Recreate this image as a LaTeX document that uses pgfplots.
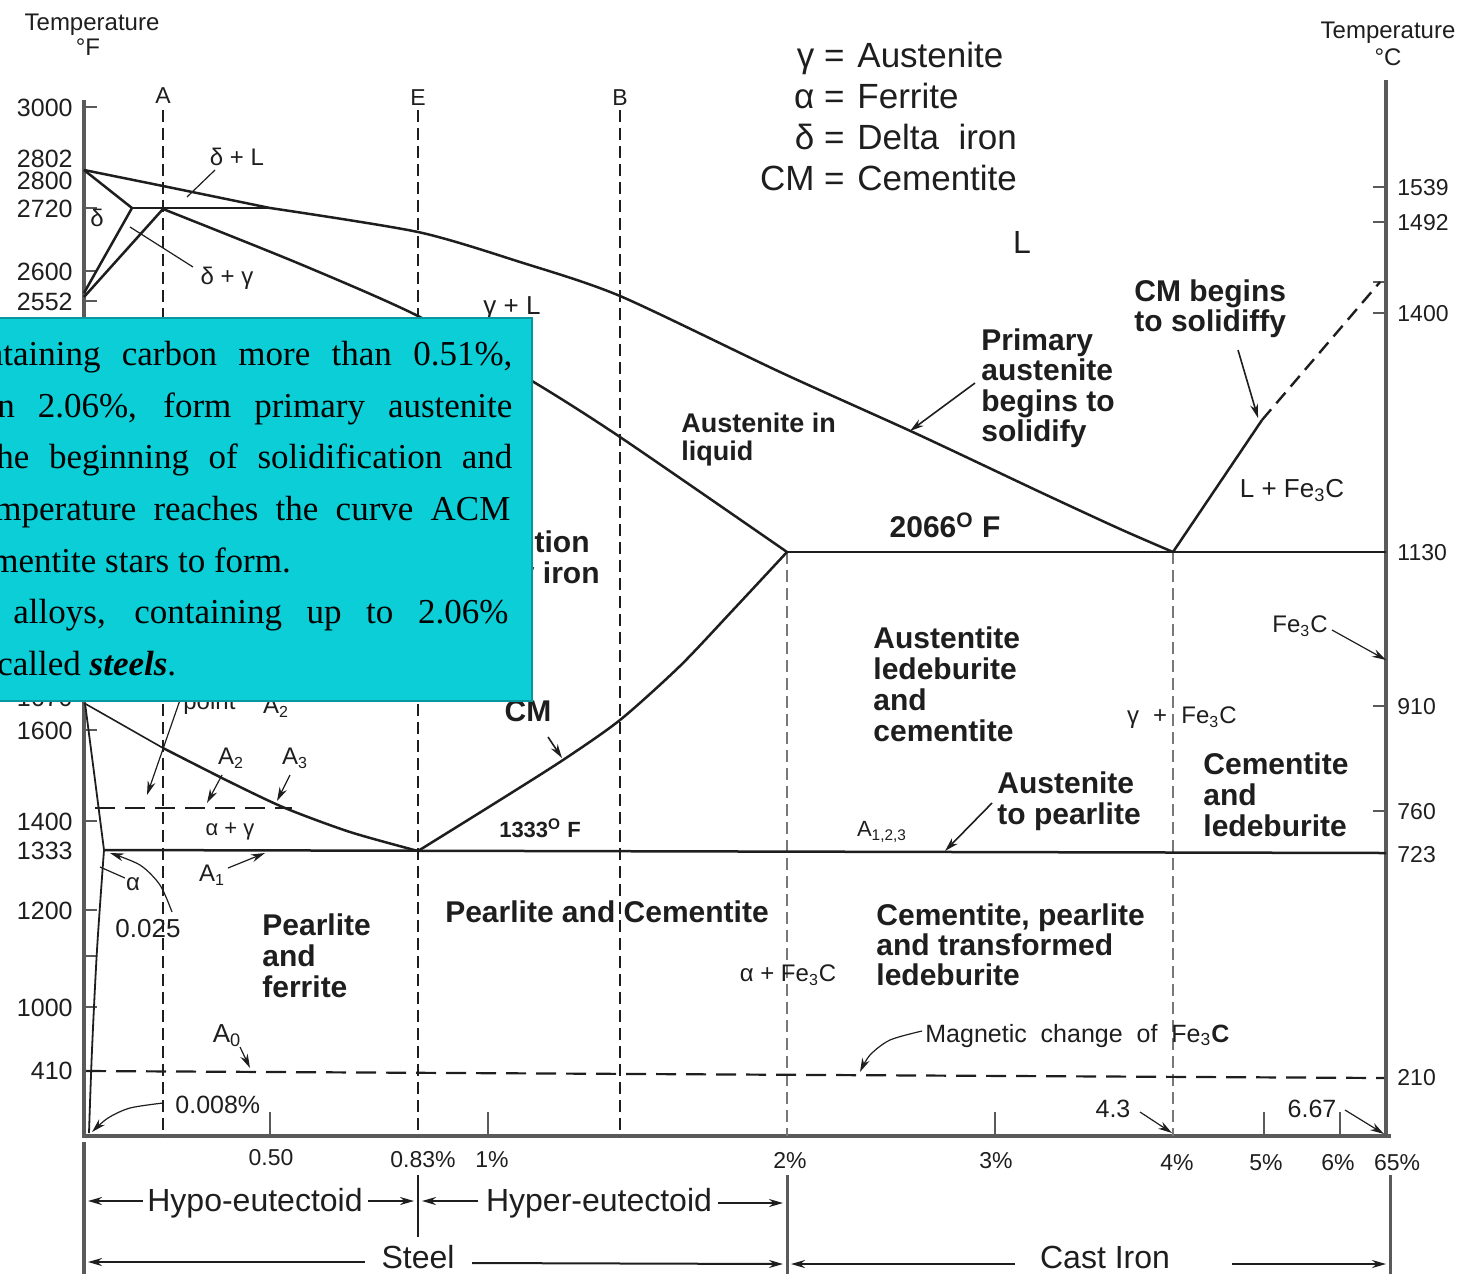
\documentclass[border=0pt]{standalone}
\usepackage{fontspec}
\setmainfont{Liberation Sans}
\newfontfamily\tnr{Liberation Serif}
\usepackage{pgfplots}
\pgfplotsset{compat=1.18}
\usetikzlibrary{arrows.meta}

\definecolor{ink}{RGB}{30,30,30}
\definecolor{axgray}{RGB}{90,90,90}
\definecolor{dgray}{RGB}{120,120,120}
\definecolor{boxfill}{RGB}{11,206,214}
\definecolor{boxedge}{RGB}{10,150,158}

% single-line label centred (vertically on the caps) at x,y
% #1 extra options, #2 x, #3 y, #4 font size (pt), #5 text
\newcommand{\lbl}[5][]{\node[inner sep=0pt,text=ink,anchor=base,
  yshift={-0.36*#4pt},font=\fontsize{#4}{#4}\selectfont,#1] at (axis cs:#2,#3) {#5};}
% multi-line label, top-left corner at x,y
\newcommand{\mlbl}[6][]{\node[inner sep=0pt,text=ink,anchor=north west,align=left,
  font=\fontsize{#4}{#5}\selectfont\bfseries,#1] at (axis cs:#2,#3) {#6};}
% one line of the serif text panel
\newcommand{\pline}[3]{\node[inner sep=0pt,anchor=base west,text=black,
  font=\tnr\fontsize{17.5}{20}\selectfont] at (axis cs:#1,#2) {#3};}

\begin{document}
\begin{tikzpicture}
\useasboundingbox (0,0) rectangle (737.5pt,637pt);
\clip (0,0) rectangle (737.5pt,637pt);
\begin{axis}[at={(0,0)},anchor=south west,scale only axis,
  width=737.5pt,height=637pt,
  xmin=0,xmax=1475,ymin=0,ymax=1274,y dir=reverse,
  hide axis,clip=false,
  cycle list={{ink,solid,line width=1.2pt,mark=none,line join=round}},
  pl/.style={ink,solid,line width=1.25pt,line join=round},
  thinl/.style={ink,line width=0.6pt},
  arr/.style={ink,line width=0.6pt,-{Stealth[length=7pt,width=4pt]}},
  dimarr/.style={ink,line width=1pt,-{Stealth[length=7pt,width=4pt]}},
  vdash/.style={ink,line width=1pt,dash pattern=on 6pt off 3pt},
  hdash/.style={ink,line width=1.1pt,dash pattern=on 10pt off 5pt},
]

% ---- axes ----
\addplot[axgray,line width=2pt] coordinates {(84,100)(84,1136)(1391,1136)};
\addplot[axgray,line width=2pt] coordinates {(1386,80)(1386,1136)};
% left ticks
\addplot[axgray,line width=1pt] coordinates {(84,107)(97,107)};
\addplot[axgray,line width=1pt] coordinates {(84,208)(97,208)};
\addplot[axgray,line width=1pt] coordinates {(84,271)(97,271)};
\addplot[axgray,line width=1pt] coordinates {(84,301)(97,301)};
\addplot[axgray,line width=1pt] coordinates {(84,730)(97,730)};
\addplot[axgray,line width=1pt] coordinates {(84,821)(97,821)};
\addplot[axgray,line width=1pt] coordinates {(84,910)(97,910)};
\addplot[axgray,line width=1pt] coordinates {(84,956)(97,956)};
\addplot[axgray,line width=1pt] coordinates {(84,1007)(97,1007)};
% right ticks
\addplot[axgray,line width=1pt] coordinates {(1373,187)(1386,187)};
\addplot[axgray,line width=1pt] coordinates {(1373,222)(1386,222)};
\addplot[axgray,line width=1pt] coordinates {(1373,282)(1386,282)};
\addplot[axgray,line width=1pt] coordinates {(1373,313)(1386,313)};
\addplot[axgray,line width=1pt] coordinates {(1373,706)(1386,706)};
\addplot[axgray,line width=1pt] coordinates {(1373,811)(1386,811)};
% bottom ticks
\addplot[axgray,line width=1pt] coordinates {(270,1112)(270,1136)};
\addplot[axgray,line width=1pt] coordinates {(488,1112)(488,1136)};
\addplot[axgray,line width=1pt] coordinates {(995,1112)(995,1136)};
\addplot[axgray,line width=1pt] coordinates {(1264,1112)(1264,1136)};
\addplot[axgray,line width=1pt] coordinates {(1340,1112)(1340,1136)};

% ---- composition guide lines ----
\addplot[vdash] coordinates {(163,110)(163,1136)};
\addplot[vdash] coordinates {(418,110)(418,1136)};
\addplot[vdash] coordinates {(620,110)(620,1136)};
\addplot[vdash,dgray,line width=1.3pt] coordinates {(787,552)(787,1136)};
\addplot[vdash,dgray,line width=1.3pt] coordinates {(1173,552)(1173,1136)};

% ---- phase boundaries ----
% liquidus
\addplot[pl] coordinates {(84,170)(163,186)(270,208)};
\addplot[pl,smooth,tension=0.45] coordinates {(270,208)(418,232)(520,262)(620,296)(780,372)(917,434)(1040,492)(1120,529)(1173,552)};
% peritectic
\addplot[pl] coordinates {(132,208)(270,208)};
% delta field
\addplot[pl] coordinates {(84,170)(132,208)(84,293)};
\addplot[pl] coordinates {(163,209)(84,297)};
% solidus
\addplot[pl,smooth,tension=0.45] coordinates {(163,209)(300,264)(418,316)(532,381)(620,437)(787,552)};
% eutectic
\addplot[pl] coordinates {(787,552)(1386,552)};
% Acm
\addplot[pl,smooth,tension=0.45] coordinates {(418,851)(500,800)(563,760)(620,720)(680,666)(733,610)(787,552)};
% A3
\addplot[pl,line width=0.8pt] coordinates {(84,703)(163,748)};
\addplot[pl,smooth,tension=0.45] coordinates {(163,748)(230,782)(285,808)(350,832)(418,851)};
% alpha field
\addplot[pl,line width=0.9pt] coordinates {(85,703)(95,780)(104,850)};
\addplot[pl,line width=0.9pt,smooth] coordinates {(104,850)(97,950)(92,1050)(89,1133)};
% eutectoid
\addplot[pl] coordinates {(104,850)(1386,853)};
% hypereutectic liquidus
\addplot[pl] coordinates {(1173,552)(1262,420)};
\addplot[hdash,line width=1.2pt,dash pattern=on 7pt off 4pt] coordinates {(1262,420)(1380,282)};
% Curie (A2) line
\addplot[hdash] coordinates {(95,808)(292,808)};
% magnetic change of Fe3C
\addplot[hdash] coordinates {(86,1071)(1384,1078)};

% ---- leaders ----
\addplot[thinl] coordinates {(215,170)(187,197)};
\addplot[thinl] coordinates {(193,267)(130,227)};
\addplot[arr] coordinates {(180,700)(147,795)};
\addplot[arr] coordinates {(222,775)(207,803)};
\addplot[arr] coordinates {(290,775)(277,801)};
\addplot[thinl] coordinates {(125,878)(100,867)};
\addplot[arr,smooth] coordinates {(172,912)(160,885)(140,865)(110,853)};
\addplot[arr] coordinates {(228,868)(265,853)};
\addplot[arr] coordinates {(240,1047)(250,1068)};
\addplot[arr,smooth] coordinates {(163,1103)(130,1108)(108,1118)(92,1132)};
\addplot[arr] coordinates {(1140,1112)(1172,1133)};
\addplot[arr] coordinates {(1345,1110)(1384,1134)};
\addplot[arr,smooth] coordinates {(922,1031)(890,1040)(870,1055)(860,1072)};
\addplot[arr,line width=0.8pt] coordinates {(975,383)(910,431)};
\addplot[arr,line width=0.8pt] coordinates {(1238,350)(1258,418)};
\addplot[arr,line width=0.8pt] coordinates {(548,737)(562,758)};
\addplot[arr,line width=0.8pt] coordinates {(992,803)(945,851)};
\addplot[arr] coordinates {(1332,630)(1386,660)};

% ---- region names below the axis ----
\addplot[axgray,line width=2pt] coordinates {(84,1142)(84,1274)};
\addplot[ink,line width=1pt] coordinates {(418,1175)(418,1237)};
\addplot[axgray,line width=1.5pt] coordinates {(787,1175)(787,1274)};
\addplot[axgray,line width=1.5pt] coordinates {(1390,1175)(1390,1274)};
\addplot[dimarr] coordinates {(143,1201)(88,1201)};
\addplot[dimarr] coordinates {(368,1201)(414,1201)};
\addplot[dimarr] coordinates {(478,1201)(422,1201)};
\addplot[dimarr] coordinates {(718,1203)(783,1203)};
\addplot[dimarr] coordinates {(365,1262)(88,1262)};
\addplot[dimarr] coordinates {(472,1263)(783,1264)};
\addplot[dimarr] coordinates {(1015,1264)(791,1264)};
\addplot[dimarr] coordinates {(1232,1264)(1386,1264)};

% ---- axis titles and tick labels ----
\lbl{92}{22}{12}{Temperature}
\lbl{88}{47}{12}{°F}
\lbl{1388}{30}{12}{Temperature}
\lbl{1388}{57}{12}{°C}
\lbl[anchor=base east]{73}{107}{12.5}{3000}
\lbl[anchor=base east]{73}{158}{12.5}{2802}
\lbl[anchor=base east]{73}{180}{12.5}{2800}
\lbl[anchor=base east]{73}{208}{12.5}{2720}
\lbl[anchor=base east]{73}{271}{12.5}{2600}
\lbl[anchor=base east]{73}{301}{12.5}{2552}
\lbl[anchor=base east]{73}{697}{12.5}{1670}
\lbl[anchor=base east]{73}{730}{12.5}{1600}
\lbl[anchor=base east]{73}{821}{12.5}{1400}
\lbl[anchor=base east]{73}{850}{12.5}{1333}
\lbl[anchor=base east]{73}{910}{12.5}{1200}
\lbl[anchor=base east]{73}{1007}{12.5}{1000}
\lbl[anchor=base east]{73}{1070}{12.5}{410}
\lbl[anchor=base west]{1397}{187}{11.5}{1539}
\lbl[anchor=base west]{1397}{222}{11.5}{1492}
\lbl[anchor=base west]{1397}{313}{11.5}{1400}
\lbl[anchor=base west]{1397}{552}{11.5}{1130}
\lbl[anchor=base west]{1397}{706}{11.5}{910}
\lbl[anchor=base west]{1397}{811}{11.5}{760}
\lbl[anchor=base west]{1397}{854}{11.5}{723}
\lbl[anchor=base west]{1397}{1077}{11.5}{210}
\lbl{271}{1157}{11.5}{0.50}
\lbl{423}{1159}{11.5}{0.83\%}
\lbl{492}{1159}{11.5}{1\%}
\lbl{790}{1160}{11.5}{2\%}
\lbl{996}{1160}{11.5}{3\%}
\lbl{1177}{1162}{11.5}{4\%}
\lbl{1266}{1162}{11.5}{5\%}
\lbl{1338}{1162}{11.5}{6\%}
\lbl{1397}{1162}{11.5}{65\%}
\lbl{163}{95}{11.5}{A}
\lbl{418}{97}{11.5}{E}
\lbl{620}{97}{11.5}{B}
\lbl{255}{1200}{16}{Hypo-eutectoid}
\lbl{599}{1200}{16}{Hyper-eutectoid}
\lbl{418}{1257}{16}{Steel}
\lbl{1105}{1257}{16}{Cast Iron}

% ---- key ----
\lbl[anchor=base east]{845}{55}{17.5}{γ =}
\lbl[anchor=base east]{845}{96}{17.5}{α =}
\lbl[anchor=base east]{845}{137}{17.5}{δ =}
\lbl[anchor=base east]{845}{178}{17.5}{CM =}
\lbl[anchor=base west]{857}{55}{17.5}{Austenite}
\lbl[anchor=base west]{857}{96}{17.5}{Ferrite}
\lbl[anchor=base west]{857}{137}{17.5}{Delta\ \ iron}
\lbl[anchor=base west]{857}{178}{17.5}{Cementite}

% ---- field labels ----
\lbl{1022}{242}{16}{L}
\lbl{512}{305}{13}{γ + L}
\lbl{237}{157}{12}{δ + L}
\lbl{97}{218}{12}{δ}
\lbl{227}{276}{12}{δ + γ}
\lbl{1292}{488}{13}{L + Fe\textsubscript{3}C}
\lbl{1300}{624}{12}{Fe\textsubscript{3}C}
\lbl{1133}{715}{12}{γ}
\lbl{1160}{715}{12}{+}
\lbl{1209}{715}{12}{Fe\textsubscript{3}C}
\lbl{882}{829}{11}{A\textsubscript{1,2,3}}
\lbl{788}{973}{12}{α + Fe\textsubscript{3}C}
\lbl[anchor=base west]{925}{1033}{12.5}{Magnetic\ \ change\ \ of\ \ Fe\textsubscript{3}\textbf{C}}
\lbl{227}{1033}{13}{A\textsubscript{0}}
\lbl[anchor=base west]{175}{1104}{12.5}{0.008\%}
\lbl{148}{928}{13}{0.025}
\lbl{133}{882}{12}{α}
\lbl{212}{873}{12}{A\textsubscript{1}}
\lbl{231}{756}{12}{A\textsubscript{2}}
\lbl{295}{756}{12}{A\textsubscript{3}}
\lbl{230}{828}{11}{α + γ}
\lbl[anchor=base west]{183}{701}{12}{point}
\lbl{276}{705}{12}{A\textsubscript{2}}
\lbl{1113}{1108}{12.5}{4.3}
\lbl{1312}{1108}{12.5}{6.67}
\lbl{945}{527}{15}{\bfseries 2066\textsuperscript{O} F}
\lbl{540}{830}{11}{\bfseries 1333\textsuperscript{O} F}
\lbl{528}{711}{15}{\bfseries CM}
\lbl[anchor=base east]{590}{542}{15}{\bfseries Solid solution}
\lbl[anchor=base east]{600}{573}{15}{\bfseries of carbon in γ iron}
\lbl{607}{912}{15}{\bfseries Pearlite and Cementite}
\mlbl{262}{913}{15}{15.5}{Pearlite\\and\\ferrite}
\mlbl{873}{626}{15}{15.5}{Austentite\\ledeburite\\and\\cementite}
\mlbl{997}{771}{15}{15.5}{Austenite\\to pearlite}
\mlbl{1203}{752}{15}{15.5}{Cementite\\and\\ledeburite}
\mlbl{876}{903}{15}{15}{Cementite, pearlite\\and transformed\\ledeburite}
\mlbl{981}{328}{15}{15.25}{Primary\\austenite\\begins to\\solidify}
\mlbl{1134}{279}{15}{15.25}{CM begins\\to solidiffy}
\mlbl{681}{413}{13.5}{14}{Austenite in\\liquid}

% ---- text panel ----
\fill[boxfill,draw=boxedge,line width=1.2pt] (axis cs:-10,318) rectangle (axis cs:532,701);
\pline{3}{365}{\makebox[254.5pt][s]{\llap{con}taining carbon more than 0.51\%,}}
\pline{-3}{417}{\makebox[257.5pt][s]{\llap{tha}n 2.06\%, form primary austenite}}
\pline{-4}{468}{\makebox[258pt][s]{\llap{t}he beginning of solidification and}}
\pline{-6}{520}{\makebox[258pt][s]{\llap{te}mperature reaches the curve ACM}}
\pline{-9}{572}{\llap{ce}mentite stars to form.}
\pline{13}{623}{\makebox[247.5pt][s]{alloys, containing up to 2.06\%}}
\pline{-3}{675}{\llap{are }called \textbf{\textit{steels}}.}

\end{axis}
\end{tikzpicture}
\end{document}
